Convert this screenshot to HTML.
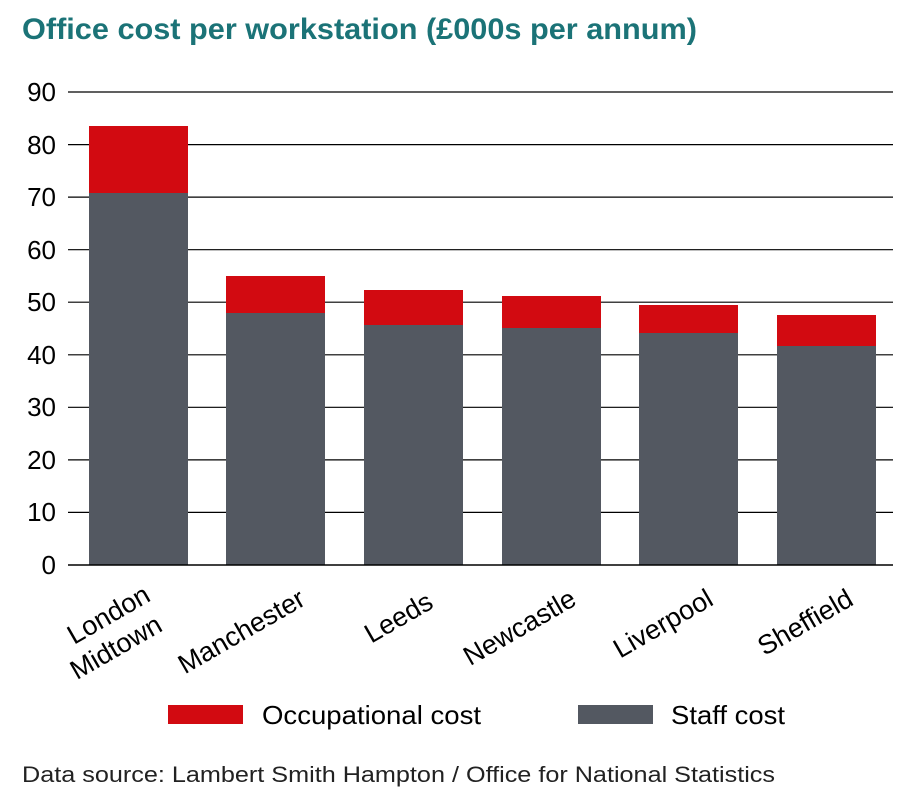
<!DOCTYPE html>
<html><head><meta charset="utf-8"><style>
html,body{margin:0;padding:0;background:#fff;}
svg{display:block;font-family:"Liberation Sans",sans-serif;}
</style></head><body>
<svg width="916" height="800" viewBox="0 0 916 800">
<text x="22" y="39" font-size="30" font-weight="bold" fill="#1b7377" textLength="675" lengthAdjust="spacingAndGlyphs">Office cost per workstation (£000s per annum)</text>
<g stroke="#000" stroke-width="1.2">
<line x1="68" x2="893" y1="92" y2="92"/><line x1="68" x2="893" y1="144.6" y2="144.6"/>
<line x1="68" x2="893" y1="197.1" y2="197.1"/><line x1="68" x2="893" y1="249.7" y2="249.7"/>
<line x1="68" x2="893" y1="302.2" y2="302.2"/><line x1="68" x2="893" y1="354.8" y2="354.8"/>
<line x1="68" x2="893" y1="407.3" y2="407.3"/><line x1="68" x2="893" y1="459.9" y2="459.9"/>
<line x1="68" x2="893" y1="512.4" y2="512.4"/>
</g>
<g font-size="26" fill="#000" text-anchor="end">
<text x="56" y="101">90</text><text x="56" y="154">80</text><text x="56" y="206">70</text>
<text x="56" y="259">60</text><text x="56" y="311">50</text><text x="56" y="364">40</text>
<text x="56" y="416">30</text><text x="56" y="469">20</text><text x="56" y="521">10</text>
<text x="56" y="574">0</text>
</g>
<g fill="#535861">
<rect x="89" y="193" width="99" height="372"/><rect x="226" y="313" width="99" height="252"/>
<rect x="364" y="325" width="99" height="240"/><rect x="502" y="328" width="99" height="237"/>
<rect x="639" y="333" width="99" height="232"/><rect x="777" y="346" width="99" height="219"/>
</g>
<g fill="#d20a11">
<rect x="89" y="126" width="99" height="67"/><rect x="226" y="276" width="99" height="37"/>
<rect x="364" y="290" width="99" height="35"/><rect x="502" y="296" width="99" height="32"/>
<rect x="639" y="305" width="99" height="28"/><rect x="777" y="315" width="99" height="31"/>
</g>
<line x1="68" x2="893" y1="565" y2="565" stroke="#000" stroke-width="1.5"/>
<g font-size="27" fill="#000" text-anchor="end">
<text transform="translate(152,600) rotate(-30)">London</text>
<text transform="translate(164,630) rotate(-30)">Midtown</text>
<text transform="translate(307,604) rotate(-30)">Manchester</text>
<text transform="translate(435,607) rotate(-30)">Leeds</text>
<text transform="translate(578,604) rotate(-30)">Newcastle</text>
<text transform="translate(715,604) rotate(-30)">Liverpool</text>
<text transform="translate(855,604) rotate(-30)">Sheffield</text>
</g>
<rect x="168" y="705" width="75" height="19" fill="#d20a11"/>
<text x="262" y="724" font-size="26" textLength="219" lengthAdjust="spacingAndGlyphs">Occupational cost</text>
<rect x="578" y="705" width="75" height="19" fill="#535861"/>
<text x="671" y="724" font-size="26" textLength="114" lengthAdjust="spacingAndGlyphs">Staff cost</text>
<text x="22" y="782" font-size="22" fill="#222" textLength="753" lengthAdjust="spacingAndGlyphs">Data source: Lambert Smith Hampton / Office for National Statistics</text>
</svg>
</body></html>
